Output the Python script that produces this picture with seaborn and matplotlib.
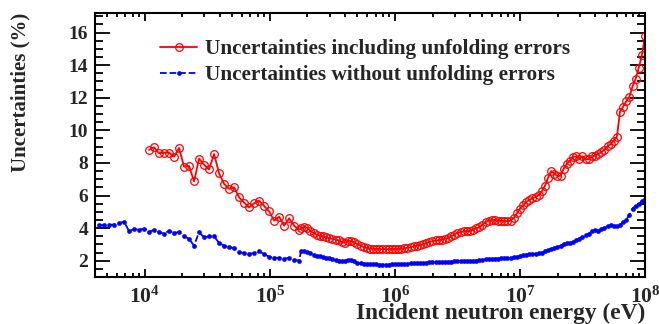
import numpy as np
import pandas as pd
import matplotlib
matplotlib.use("Agg")
import matplotlib.pyplot as plt
import seaborn as sns
from matplotlib.ticker import LogLocator, FixedLocator, MultipleLocator

# ---------------- data ----------------
# energy bins (log10 eV): coarse binning below ~1.7e5 eV, finer above
log_e_low = np.round(np.arange(3.634, 5.2341, 0.04), 4)      # 41 bins
log_e_high = np.round(np.arange(5.25, 8.0001, 0.025), 4)     # 111 bins

blue_low = [4.20, 4.17, 4.19, 4.22, 4.30, 4.40, 3.82, 3.94, 3.90, 3.96,
            3.76, 3.90, 3.75, 3.66, 3.84, 3.70, 3.76, 3.52, 3.32, 2.93,
            3.75, 3.43, 3.49, 3.49, 3.09, 2.92, 2.82, 2.78, 2.53, 2.47,
            2.43, 2.45, 2.57, 2.41, 2.24, 2.19, 2.17, 2.13, 2.16, 2.06,
            2.00]
red_low = [8.80, 8.96, 8.59, 8.63, 8.63, 8.38, 8.92, 7.77, 7.81, 6.87,
           8.26, 7.89, 7.60, 8.55, 7.36, 6.71, 6.42, 6.50, 5.89, 5.56,
           5.27, 5.52, 5.68, 5.36, 5.03, 4.46, 4.70, 4.15, 4.60, 4.15,
           3.90]  # starts at the 11th low bin

blue_high = [2.61, 2.57, 2.51, 2.46, 2.37, 2.31, 2.26, 2.23, 2.18, 2.14,
             2.10, 2.04, 2.00, 1.96, 2.00, 2.06, 2.06, 1.96, 1.88, 1.86,
             1.82, 1.80, 1.78, 1.78, 1.77, 1.76, 1.76, 1.76, 1.76, 1.77,
             1.78, 1.78, 1.79, 1.80, 1.82, 1.83, 1.84, 1.85, 1.86, 1.87,
             1.88, 1.89, 1.90, 1.90, 1.91, 1.92, 1.93, 1.94, 1.95, 1.96,
             1.97, 1.97, 1.98, 1.98, 1.99, 2.00, 2.01, 2.02, 2.05, 2.08,
             2.10, 2.12, 2.13, 2.13, 2.14, 2.14, 2.15, 2.18, 2.20, 2.24,
             2.28, 2.32, 2.37, 2.40, 2.42, 2.44, 2.46, 2.50, 2.58, 2.64,
             2.72, 2.78, 2.84, 2.92, 3.04, 3.06, 3.10, 3.16, 3.25, 3.36,
             3.46, 3.56, 3.66, 3.82, 3.86, 3.84, 3.95, 4.02, 4.10, 4.18,
             4.12, 4.10, 4.22, 4.35, 4.52, 4.80, 5.20, 5.38, 5.45, 5.65,
             5.80]
red_high = [4.00, 4.08, 4.02, 3.82, 3.70, 3.60, 3.52, 3.49, 3.44, 3.38,
            3.34, 3.30, 3.25, 3.14, 3.10, 3.22, 3.20, 3.14, 3.00, 2.92,
            2.84, 2.80, 2.74, 2.74, 2.72, 2.72, 2.70, 2.72, 2.70, 2.72,
            2.72, 2.73, 2.74, 2.76, 2.80, 2.82, 2.88, 2.92, 2.96, 3.02,
            3.08, 3.16, 3.20, 3.24, 3.26, 3.30, 3.36, 3.40, 3.50, 3.60,
            3.70, 3.76, 3.80, 3.82, 3.84, 3.90, 4.00, 4.05, 4.20, 4.38,
            4.46, 4.50, 4.50, 4.45, 4.44, 4.44, 4.42, 4.46, 4.62, 4.90,
            5.20, 5.40, 5.60, 5.72, 5.82, 5.92, 6.02, 6.25, 6.60, 7.10,
            7.50, 7.35, 7.18, 7.22, 7.65, 7.95, 8.12, 8.38, 8.40, 8.25,
            8.40, 8.25, 8.22, 8.40, 8.45, 8.55, 8.65, 8.80, 9.02, 9.15,
            9.35, 9.60, 11.15, 11.45, 11.78, 12.05, 12.70, 13.15, 13.85, 14.60,
            15.80]

label_red = "Uncertainties including unfolding errors"
label_blue = "Uncertainties without unfolding errors"
x_label = "Incident neutron energy (eV)"
y_label = "Uncertainties (%)"
x_tick_exps = [4, 5, 6, 7, 8]
y_ticks = [2, 4, 6, 8, 10, 12, 14, 16]

energy_all = 10 ** np.concatenate([log_e_low, log_e_high])
df_blue = pd.DataFrame({"E": energy_all, "U": blue_low + blue_high})
df_red = pd.DataFrame({"E": 10 ** np.concatenate([log_e_low[10:], log_e_high]),
                       "U": red_low + red_high})

# ---------------- style ----------------
sns.set_style("ticks")
plt.rcParams["font.family"] = ["Liberation Serif", "DejaVu Serif"]
plt.rcParams["font.weight"] = "bold"
plt.rcParams["mathtext.fontset"] = "custom"
plt.rcParams["mathtext.rm"] = "Liberation Serif:bold"
plt.rcParams["mathtext.bf"] = "Liberation Serif:bold"
plt.rcParams["mathtext.it"] = "Liberation Serif:bold"

fig = plt.figure(figsize=(6.59, 3.24), dpi=100)
ax = fig.add_axes([0.1442, 0.1451, 0.8346, 0.8148])

sns.lineplot(data=df_red, x="E", y="U", ax=ax, color="#ff0000", lw=1.3,
             marker="o", markersize=5.5, markerfacecolor="none",
             markeredgecolor="#ff0000", markeredgewidth=0.9,
             estimator=None, sort=False, label=label_red)
sns.lineplot(data=df_blue, x="E", y="U", ax=ax, color="#0000ff", lw=1.3,
             linestyle="--", marker="o", markersize=3.4,
             markeredgewidth=0, estimator=None, sort=False, label=label_blue)

ax.set_xscale("log")
ax.set_xlim(4000, 1e8)
ax.set_ylim(1.0, 17.2)

ax.xaxis.set_major_locator(FixedLocator([10.0 ** e for e in x_tick_exps]))
ax.set_xticklabels([r"$\mathbf{10^{%d}}$" % e for e in x_tick_exps])
ax.xaxis.set_minor_locator(LogLocator(base=10, subs=np.arange(2, 10), numticks=20))
ax.yaxis.set_major_locator(FixedLocator(y_ticks))
ax.set_yticklabels([str(v) for v in y_ticks])
ax.yaxis.set_minor_locator(MultipleLocator(0.5))

ax.tick_params(axis="both", which="both", direction="in", top=True, right=True,
               color="black", width=1.3)
ax.tick_params(axis="x", which="major", length=6, labelsize=15.5, pad=7)
ax.tick_params(axis="x", which="minor", length=3)
ax.tick_params(axis="y", which="major", length=11, labelsize=14, pad=5)
ax.tick_params(axis="y", which="minor", length=5.5)
for s in ax.spines.values():
    s.set_linewidth(1.5)
    s.set_color("black")

ax.set_xlabel(x_label, fontsize=16.8, fontweight="bold", ha="right", x=1.0, labelpad=-3.5)
ax.set_ylabel(y_label, fontsize=15, fontweight="bold", ha="right", y=1.0, labelpad=27)

leg = ax.legend(loc="upper left", bbox_to_anchor=(0.118, 0.90), frameon=False,
                prop={"family": "Liberation Serif", "weight": "bold", "size": 15.3},
                handlelength=1.75, handletextpad=0.38, labelspacing=0.28,
                borderpad=0, borderaxespad=0)

fig.savefig("out.png", dpi=100)
